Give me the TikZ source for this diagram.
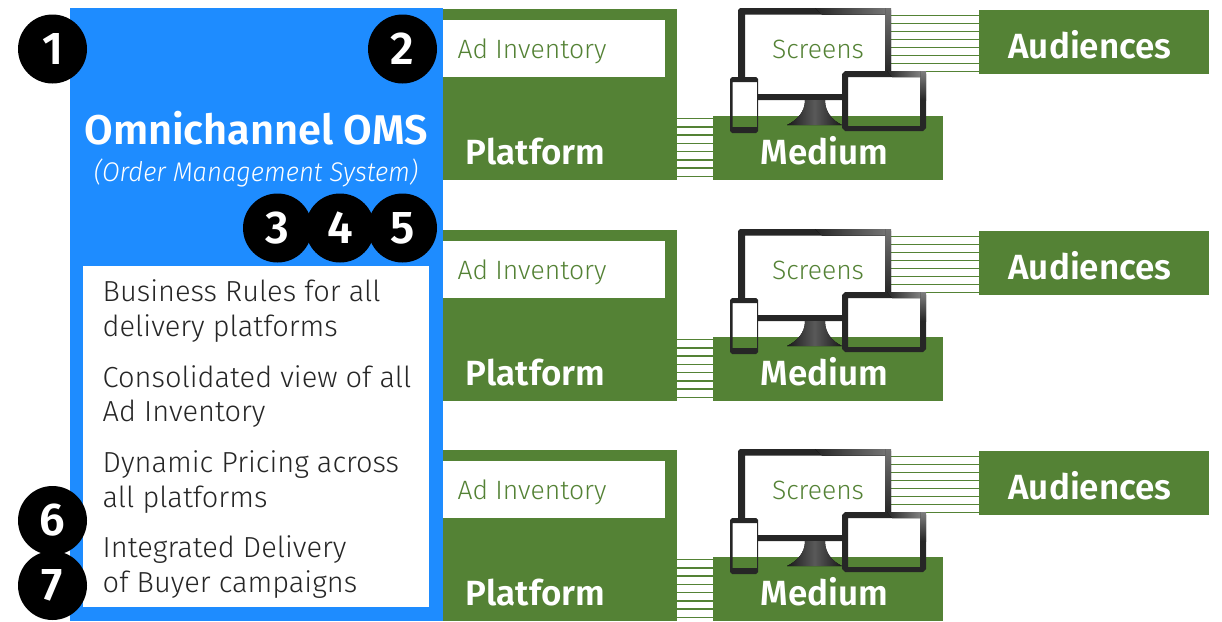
\documentclass[tikz,border=0pt]{standalone}
\usepackage{fontspec}
\setmainfont{Fira Sans}
\newfontfamily\lightf{Fira Sans Light}
\newfontfamily\lightit[FakeStretch=0.95]{Fira Sans Light Italic}
\newfontfamily\boldf{Fira Sans SemiBold}
\usetikzlibrary{calc}
\definecolor{oblue}{HTML}{1E8CFF}
\definecolor{ogreen}{HTML}{548235}
\definecolor{bez}{HTML}{262626}
\newcommand{\fsz}[1]{\fontsize{#1}{#1}\selectfont}
\tikzset{
 x=1pt,y=-1pt,
 gbox/.style={fill=ogreen,inner sep=0,outer sep=0,minimum width=230pt,minimum height=64pt},
 num/.style={circle,fill=black,text=white,inner sep=0,minimum size=69pt,font=\boldf\fsz{46}},
 hatch/.style={draw=ogreen,line width=1.5pt},
 glab/.style={text=white,anchor=base,inner sep=0,font=\boldf\fsz{35}},
 smlab/.style={text=ogreen,anchor=base,inner sep=0,font=\lightf\fsz{26.5}},
 body/.style={anchor=base west,inner sep=0,text=black!85,font=\lightf\fsz{29}}
}
\begin{document}
\begin{tikzpicture}
\useasboundingbox (0,0) rectangle (1222,621);
% panels
\foreach \i/\d in {1/0,2/221,3/441}{
\begin{scope}[yshift=-\d pt]
 \node[fill=ogreen,inner sep=0,outer sep=0,minimum width=234pt,minimum height=171pt] (plat\i) at (560,94.5) {};
 \node[fill=white,inner sep=0,outer sep=0,minimum width=222pt,minimum height=57pt] (inv\i) at (554,48.5) {};
 \node[smlab] at (532,58) {Ad Inventory};
 \node[gbox] (med\i) at (828,148) {};
 \node[gbox] (aud\i) at (1094,42) {};
 \node[glab] at (535.5,164) {Platform};
 \node[glab] at (824.5,164) {Medium};
 \node[glab] at (1090,58) {Audiences};
 \foreach \o in {0,...,7}{
  \draw[hatch] ($(plat\i.north east)+(0,109.5+8.25*\o)$) -- ($(med\i.north west)+(0,2.5+8.25*\o)$);
  \draw[hatch] ($(aud\i.north west)+(-88,5.5+8*\o)$) -- ($(aud\i.north west)+(0,5.5+8*\o)$);
 }
 % monitor
 \fill[white] (745,14.5) rectangle (885,94);
 \node[smlab] at (818,58) {Screens};
 \fill[bez,even odd rule] (740,8) -- (889,8) -- (891,10) -- (891,100) -- (738,100) -- (738,10) -- cycle (745,14.5) rectangle (885,94);
 \fill[top color=black!55,bottom color=bez] (885,8) rectangle (891,72);
 \fill[left color=bez,right color=black!55] (815,8) -- (885,8) -- (885,14.5) -- (822,14.5) -- cycle;
 \fill[left color=black!90,right color=black!90,middle color=black!65] (805,100) -- (825,100) .. controls (825,112) and (832,120) .. (842,125) -- (787,125) .. controls (797,120) and (805,112) .. (805,100) -- cycle;
 % phone
 \fill[white] (732,82) rectangle (757,116);
 \fill[bez,even odd rule] (732,77) -- (756,77) -- (758,79) -- (758,131) -- (756,133) -- (732,133) -- (730,131) -- (730,79) -- cycle (732.5,82) rectangle (757,127);
 % tablet
 \fill[white] (848,77) rectangle (920,116);
 \fill[bez,even odd rule] (845,71) -- (923,71) -- (926,74) -- (926,128) -- (923,131) -- (845,131) -- (842,128) -- (842,74) -- cycle (848,77) rectangle (920,126);
 \fill[top color=black!50,bottom color=bez] (920,71) rectangle (926,100);
 \fill[left color=bez,right color=black!50] (887,71) -- (920,71) -- (920,77) -- (892,77) -- cycle;
\end{scope}
}
% OMS
\node[fill=oblue,inner sep=0,outer sep=0,minimum width=373pt,minimum height=613pt] (oms) at (256.5,314.5) {};
\node[fill=white,inner sep=0,outer sep=0,minimum width=346pt,minimum height=341pt] (list) at (256,436.5) {};
\node[anchor=base,inner sep=0,text=white,font=\boldf\fsz{41.5}] (title) at (256,144) {Omnichannel OMS};
\node[anchor=base,inner sep=0,text=white,font=\lightit\fsz{27}] (sub) at (256,181) {(Order Management System)};
\node[body] (b1) at (102.5,301) {Business Rules for all};
\node[body] (b2) at (102.5,336) {delivery platforms};
\node[body] (b3) at (102.5,387) {Consolidated view of all};
\node[body] (b4) at (102.5,421) {Ad Inventory};
\node[body] (b5) at (102.5,472) {Dynamic Pricing across};
\node[body] (b6) at (102.5,507) {all platforms};
\node[body] (b7) at (102.5,557) {Integrated Delivery};
\node[body] (b8) at (102.5,592) {of Buyer campaigns};
\node[num] (n1) at (52.5,49) {1};
\node[num] (n2) at (402.5,49) {2};
\node[num] (n3) at (277.5,228) {3};
\node[num] (n4) at (340,228) {4};
\node[num] (n5) at (402.5,228) {5};
\node[num] (n6) at (52.5,520.5) {6};
\node[num] (n7) at (52.5,585.5) {7};
\end{tikzpicture}
\end{document}
